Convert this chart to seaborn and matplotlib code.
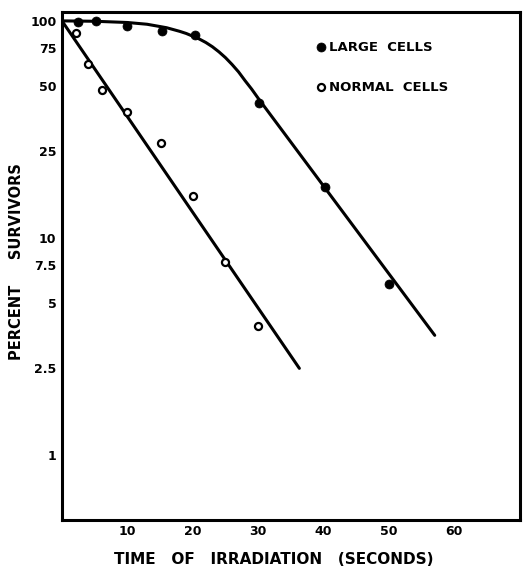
import numpy as np
import pandas as pd
import matplotlib
matplotlib.use('Agg')
import matplotlib.pyplot as plt
import seaborn as sns

# measured points
large_t = [2.4, 5.2, 10, 15.3, 20.3, 30.2, 40.2, 50]
large_pct = [99, 100, 95, 90, 86, 42, 17.2, 6.1]
normal_t = [2.1, 4.0, 6.1, 10, 15.1, 20, 25, 30]
normal_pct = [88, 63, 48, 38, 27.4, 15.5, 7.75, 3.9]

# fitted curves
large_fit_t = [0, 5, 10, 13, 16, 18, 19, 20, 21, 22, 23, 24, 25, 26, 27, 28, 29, 30, 57]
large_fit_pct = [100, 99.6, 98.3, 96.5, 93, 89.5, 87.5, 85, 82.5, 79.5, 76, 72,
                 67.7, 63, 58.2, 53, 48.5, 44, 3.55]
normal_fit_t = [0, 36.3]
normal_fit_pct = [100, 2.5]

y_ticks = [1, 2.5, 5, 7.5, 10, 25, 50, 75, 100]
y_ticklabels = ['1', '2.5', '5', '7.5', '10', '25', '50', '75', '100']
x_ticks = [10, 20, 30, 40, 50, 60]

sns.set_style('white')
plt.rcParams['font.family'] = ['DejaVu Sans']
plt.rcParams['font.weight'] = 'bold'
plt.rcParams['text.color'] = 'black'
plt.rcParams['axes.labelcolor'] = 'black'
plt.rcParams['xtick.color'] = 'black'
plt.rcParams['ytick.color'] = 'black'

fig = plt.figure(figsize=(5.25, 5.67), dpi=100)
ax = fig.add_axes([0.118, 0.083, 0.872, 0.896])

large_fit = pd.DataFrame({'t': large_fit_t, 'pct': large_fit_pct})
normal_fit = pd.DataFrame({'t': normal_fit_t, 'pct': normal_fit_pct})
sns.lineplot(data=large_fit, x='t', y='pct', sort=False, estimator=None,
             color='black', linewidth=2.2, ax=ax, zorder=2)
sns.lineplot(data=normal_fit, x='t', y='pct', sort=False, estimator=None,
             color='black', linewidth=2.2, ax=ax, zorder=2)

sns.scatterplot(x=large_t, y=large_pct, marker='o', s=42, color='black',
                edgecolor='black', linewidth=0.5, label='LARGE  CELLS', ax=ax, zorder=3)
sns.scatterplot(x=normal_t, y=normal_pct, marker='o', s=26, facecolor='white',
                edgecolor='black', linewidth=1.6, label='NORMAL  CELLS', ax=ax, zorder=3)

ax.set_yscale('log')
ax.set_xlim(0, 70)
ax.set_ylim(0.5, 110)
ax.set_yticks(y_ticks)
ax.set_yticklabels(y_ticklabels)
ax.yaxis.set_minor_locator(matplotlib.ticker.NullLocator())
ax.set_xticks(x_ticks)
ax.set_xticklabels([str(v) for v in x_ticks])
ax.tick_params(direction='in', length=4, width=1.5, labelsize=9, pad=4, colors='black')
for lbl in ax.get_xticklabels() + ax.get_yticklabels():
    lbl.set_fontweight('bold')

for sp in ax.spines.values():
    sp.set_linewidth(2.2)
    sp.set_color('black')

ax.set_xlabel('TIME   OF   IRRADIATION   (SECONDS)', fontsize=11, fontweight='bold')
ax.xaxis.set_label_coords(0.463, -0.064)
ax.set_ylabel('PERCENT     SURVIVORS', fontsize=10.5, fontweight='bold')
ax.yaxis.set_label_coords(-0.083, 0.508)

leg = ax.legend(loc='upper left', bbox_to_anchor=(0.532, 0.967), frameon=False,
                handlelength=0.6, handletextpad=0.3, labelspacing=2.05,
                prop={'size': 9.5, 'weight': 'bold'})
for txt in leg.get_texts():
    txt.set_color('black')

fig.savefig('out.png', dpi=100)
